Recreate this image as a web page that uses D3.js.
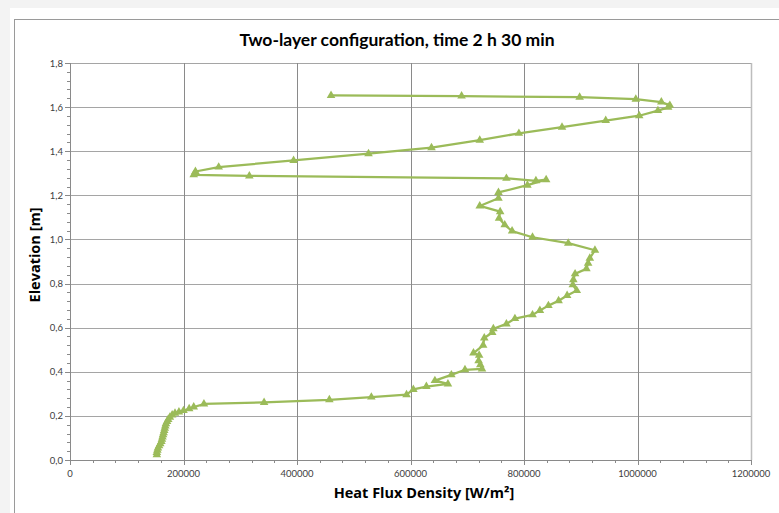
<!DOCTYPE html>
<html>
<head>
<meta charset="utf-8">
<script src="https://cdn.jsdelivr.net/npm/d3@7"></script>
<style>
  html, body { margin: 0; padding: 0; background: #f3f3f3; }
  svg { display: block; }
  text { font-family: Lato, "Open Sans", sans-serif; }
</style>
</head>
<body>
<div id="chart"></div>
<script>
// heat flux density [W/m2] and elevation [m], in plot order (bottom to top)
const flux = [
  153000, 153000, 154000, 155000, 157000, 159000, 161000, 162000, 163000, 164000,
  165000, 166000, 167000, 168000, 169000, 171000, 173000, 176000, 180000, 185000,
  192000, 200000, 210000, 218000, 236000, 342000, 457000, 531000, 593000, 605000,
  628000, 666000, 643000, 672000, 696000, 726000, 723000, 720000, 721000, 711000,
  728000, 730000, 744000, 746000, 769000, 784000, 815000, 828000, 843000, 861000,
  876000, 893000, 886000, 887000, 890000, 910000, 913000, 916000, 925000, 878000,
  815000, 779000, 766000, 756000, 758000, 722000, 755000, 755000, 806000, 839000,
  821000, 769000, 316000, 218000, 221000, 262000, 394000, 526000, 637000, 722000,
  791000, 867000, 944000, 1003000, 1036000, 1054000, 1057000, 1042000, 997000, 898000,
  690000, 460000
];
const elevation = [
  0.024, 0.034, 0.044, 0.054, 0.064, 0.074, 0.084, 0.094, 0.104, 0.114,
  0.124, 0.134, 0.144, 0.154, 0.164, 0.174, 0.184, 0.194, 0.204, 0.212,
  0.218, 0.224, 0.232, 0.240, 0.254, 0.261, 0.273, 0.285, 0.296, 0.320,
  0.333, 0.345, 0.360, 0.386, 0.409, 0.413, 0.432, 0.450, 0.475, 0.485,
  0.520, 0.553, 0.578, 0.595, 0.617, 0.641, 0.658, 0.678, 0.700, 0.722,
  0.746, 0.768, 0.794, 0.817, 0.844, 0.867, 0.892, 0.915, 0.951, 0.983,
  1.010, 1.038, 1.066, 1.096, 1.126, 1.152, 1.187, 1.213, 1.246, 1.271,
  1.266, 1.277, 1.288, 1.293, 1.308, 1.328, 1.358, 1.389, 1.416, 1.450,
  1.481, 1.509, 1.539, 1.561, 1.584, 1.599, 1.608, 1.623, 1.636, 1.645,
  1.650, 1.653
];
const xTicks = [0, 200000, 400000, 600000, 800000, 1000000, 1200000];
const yTicks = [0, 0.2, 0.4, 0.6, 0.8, 1.0, 1.2, 1.4, 1.6, 1.8];

const title = "Two-layer configuration, time 2 h 30 min";
const xTitle = "Heat Flux Density [W/m²]";
const yTitle = "Elevation [m]";

const W = 779, H = 513;
const plot = { left: 70, right: 751, top: 63, bottom: 460 };
const green = "#9bbb59";

const svg = d3.select("#chart")
  .append("svg")
  .attr("width", W)
  .attr("height", H);

// chart area
svg.append("rect")
  .attr("x", 10).attr("y", 8)
  .attr("width", W).attr("height", H)
  .attr("fill", "#ffffff");
svg.append("rect")
  .attr("x", 14.5).attr("y", 19.5)
  .attr("width", W).attr("height", H)
  .attr("fill", "none")
  .attr("stroke", "#9a9a9a");

const x = d3.scaleLinear()
  .domain([0, 1200000])
  .range([plot.left, plot.right]);

const y = d3.scaleLinear()
  .domain([0, 1.8])
  .range([plot.bottom, plot.top]);

// gridlines
svg.append("g")
  .selectAll("line")
  .data(yTicks.slice(1))
  .join("line")
  .attr("x1", plot.left).attr("x2", plot.right)
  .attr("y1", d => Math.round(y(d)) + 0.5)
  .attr("y2", d => Math.round(y(d)) + 0.5)
  .attr("stroke", "#a5a5a5");

svg.append("g")
  .selectAll("line")
  .data(xTicks.slice(1))
  .join("line")
  .attr("x1", d => Math.round(x(d)) + 0.5)
  .attr("x2", d => Math.round(x(d)) + 0.5)
  .attr("y1", plot.top).attr("y2", plot.bottom)
  .attr("stroke", d => d === 1200000 ? "#bdbdbd" : "#8a8a8a")
  .attr("stroke-width", d => d === 1200000 ? 1.5 : 1);

// minor ticks
const xMinor = d3.range(0, 1200001, 40000);
const yMinor = d3.range(0, 46).map(i => i * 0.04);

svg.append("g")
  .selectAll("line")
  .data(xMinor)
  .join("line")
  .attr("x1", d => Math.round(x(d)) + 0.5)
  .attr("x2", d => Math.round(x(d)) + 0.5)
  .attr("y1", plot.bottom)
  .attr("y2", d => xTicks.includes(d) ? plot.bottom + 5 : plot.bottom + 3)
  .attr("stroke", "#8a8a8a");

svg.append("g")
  .selectAll("line")
  .data(yMinor)
  .join("line")
  .attr("x1", d => yTicks.some(t => Math.abs(t - d) < 1e-6) ? plot.left - 5 : plot.left - 3)
  .attr("x2", plot.left)
  .attr("y1", d => Math.round(y(d)) + 0.5)
  .attr("y2", d => Math.round(y(d)) + 0.5)
  .attr("stroke", "#8a8a8a");

// axis lines
svg.append("line")
  .attr("x1", plot.left + 0.5).attr("x2", plot.left + 0.5)
  .attr("y1", plot.top).attr("y2", plot.bottom)
  .attr("stroke", "#8a8a8a");
svg.append("line")
  .attr("x1", plot.left).attr("x2", plot.right)
  .attr("y1", plot.bottom + 0.5).attr("y2", plot.bottom + 0.5)
  .attr("stroke", "#8a8a8a");

// tick labels
svg.append("g")
  .selectAll("text")
  .data(xTicks)
  .join("text")
  .attr("x", d => x(d))
  .attr("y", plot.bottom + 17)
  .attr("text-anchor", "middle")
  .attr("font-size", 9.5)
  .attr("fill", "#404040")
  .text(d3.format("d"));

svg.append("g")
  .selectAll("text")
  .data(yTicks)
  .join("text")
  .attr("x", plot.left - 7)
  .attr("y", d => y(d) + 3.5)
  .attr("text-anchor", "end")
  .attr("font-size", 9.5)
  .attr("fill", "#404040")
  .text(d => d3.format(".1f")(d).replace(".", ","));

// series
const pts = flux.map((f, i) => [f, elevation[i]]);

svg.append("path")
  .datum(pts)
  .attr("fill", "none")
  .attr("stroke", green)
  .attr("stroke-width", 2.25)
  .attr("stroke-linejoin", "round")
  .attr("d", d3.line().x(d => x(d[0])).y(d => y(d[1])));

svg.append("g")
  .selectAll("path")
  .data(pts)
  .join("path")
  .attr("transform", d => `translate(${x(d[0])},${y(d[1])})`)
  .attr("d", d3.symbol(d3.symbolTriangle, 32))
  .attr("fill", green);

// titles
svg.append("text")
  .attr("x", 397).attr("y", 46)
  .attr("text-anchor", "middle")
  .attr("font-size", 17.5)
  .attr("font-weight", "bold")
  .attr("fill", "#000")
  .text(title);

svg.append("text")
  .attr("x", 424).attr("y", 498)
  .attr("text-anchor", "middle")
  .style("font-family", "'Open Sans', sans-serif")
  .attr("font-size", 14.5)
  .attr("font-weight", "bold")
  .attr("fill", "#000")
  .text(xTitle);

svg.append("text")
  .attr("transform", `translate(40,255) rotate(-90)`)
  .attr("text-anchor", "middle")
  .style("font-family", "'Open Sans', sans-serif")
  .attr("font-size", 14.5)
  .attr("font-weight", "bold")
  .attr("fill", "#000")
  .text(yTitle);
</script>
</body>
</html>
